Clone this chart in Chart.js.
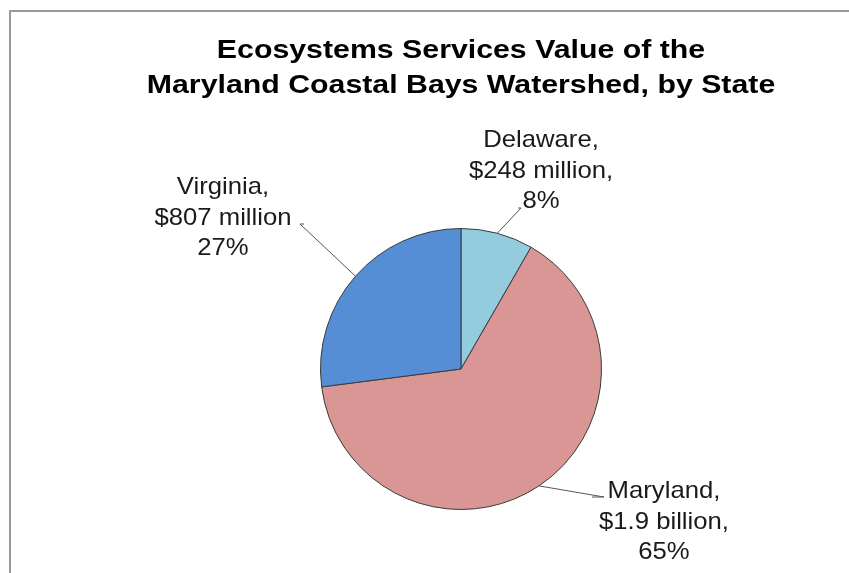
<!DOCTYPE html>
<html>
<head>
<meta charset="utf-8">
<script src="https://cdn.jsdelivr.net/npm/chart.js@4/dist/chart.umd.min.js"></script>
<style>
  html, body { margin: 0; padding: 0; background: #fff; }
  #wrap { position: relative; width: 849px; height: 573px; }
</style>
</head>
<body>
<div id="wrap"><canvas id="pie" width="849" height="573"></canvas></div>
<script>
const titleLines = ['Ecosystems Services Value of the', 'Maryland Coastal Bays Watershed, by State'];
const states = ['Delaware', 'Maryland', 'Virginia'];
const valuesMillion = [248, 1930, 807];
const amountText = ['$248 million,', '$1.9 billion,', '$807 million'];
const percentText = ['8%', '65%', '27%'];
const colors = ['#93cddd', '#d99694', '#558ed5'];

// label placement relative to the pie centre (elbow of leader line, text centre, first baseline)
const labelPos = [
  { ex: 60, ey: -161, hook: -3, tx: 80, ty: -222 },
  { ex: 143, ey: 128, hook: -12, tx: 203, ty: 129 },
  { ex: -161, ey: -145, hook: 4, tx: -238, ty: -175 }
];

const FONT = '"Liberation Sans", Arial, sans-serif';

// the source text is a little wider than plain Arial
function wideText(ctx, text, x, y, sx) {
  ctx.save();
  ctx.translate(x, y);
  ctx.scale(sx, 1);
  ctx.fillText(text, 0, 0);
  ctx.restore();
}

const decor = {
  id: 'decor',
  beforeDraw(chart) {
    const ctx = chart.ctx;
    ctx.save();
    ctx.strokeStyle = '#9a9a9a';
    ctx.lineWidth = 2;
    ctx.beginPath();
    ctx.moveTo(9, 11); ctx.lineTo(849, 11);
    ctx.moveTo(10, 11); ctx.lineTo(10, 573);
    ctx.stroke();
    ctx.fillStyle = '#000';
    ctx.font = 'bold 26px ' + FONT;
    ctx.textAlign = 'center';
    ctx.textBaseline = 'alphabetic';
    titleLines.forEach((t, i) => wideText(ctx, t, 461, 58 + i * 35, 1.165));
    ctx.restore();
  },
  afterDraw(chart) {
    const ctx = chart.ctx;
    const arcs = chart.getDatasetMeta(0).data;
    ctx.save();
    arcs.forEach((arc, i) => {
      const cx = arc.x, cy = arc.y, r = arc.outerRadius;
      const mid = (arc.startAngle + arc.endAngle) / 2;
      const px = cx + Math.cos(mid) * r, py = cy + Math.sin(mid) * r;
      const p = labelPos[i];
      ctx.strokeStyle = '#555';
      ctx.lineWidth = 1;
      ctx.beginPath();
      ctx.moveTo(px, py);
      ctx.lineTo(cx + p.ex, cy + p.ey);
      ctx.lineTo(cx + p.ex + p.hook, cy + p.ey);
      ctx.stroke();
      ctx.fillStyle = '#1a1a1a';
      ctx.font = '24px ' + FONT;
      ctx.textAlign = 'center';
      ctx.textBaseline = 'alphabetic';
      const lines = [states[i] + ',', amountText[i], percentText[i]];
      lines.forEach((t, k) => wideText(ctx, t, cx + p.tx, cy + p.ty + k * 30.7, 1.07));
    });
    ctx.restore();
  }
};

new Chart(document.getElementById('pie'), {
  type: 'pie',
  data: {
    labels: states,
    datasets: [{
      data: valuesMillion,
      backgroundColor: colors,
      borderColor: '#3a3a3a',
      borderWidth: 1
    }]
  },
  options: {
    responsive: false,
    animation: false,
    devicePixelRatio: 1,
    layout: { padding: { top: 228, bottom: 63, left: 320, right: 247 } },
    plugins: {
      legend: { display: false },
      title: { display: false },
      tooltip: { enabled: false }
    }
  },
  plugins: [decor]
});
</script>
</body>
</html>
